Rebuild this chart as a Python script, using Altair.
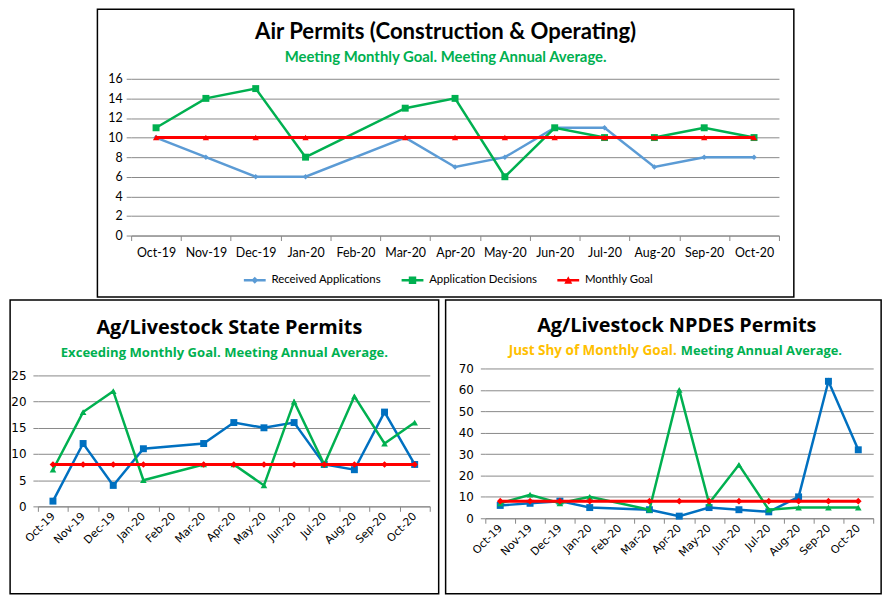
import altair as alt
import pandas as pd

# ---------------- data ----------------
months = ["Oct-19", "Nov-19", "Dec-19", "Jan-20", "Feb-20", "Mar-20", "Apr-20",
          "May-20", "Jun-20", "Jul-20", "Aug-20", "Sep-20", "Oct-20"]
series = ["Received Applications", "Application Decisions", "Monthly Goal"]

air_received = [10, 8, 6, 6, None, 10, 7, 8, 11, 11, 7, 8, 8]
air_decisions = [11, 14, 15, 8, None, 13, 14, 6, 11, 10, 10, 11, 10]
air_goal = [10, 10, 10, 10, None, 10, 10, 10, 10, 10, 10, 10, 10]

state_received = [1, 12, 4, 11, None, 12, 16, 15, 16, 8, 7, 18, 8]
state_decisions = [7, 18, 22, 5, None, 8, 8, 4, 20, 8, 21, 12, 16]
state_goal = [8, 8, 8, 8, None, 8, 8, 8, 8, 8, 8, 8, 8]

npdes_received = [6, 7, 8, 5, None, 4, 1, 5, 4, 3, 10, 64, 32]
npdes_decisions = [7, 11, 7, 10, None, 4, 60, 7, 25, 4, 5, 5, 5]
npdes_goal = [8, 8, 8, 8, None, 8, 8, 8, 8, 8, 8, 8, 8]

air_ticks = [0, 2, 4, 6, 8, 10, 12, 14, 16]
state_ticks = [0, 5, 10, 15, 20, 25]
npdes_ticks = [0, 10, 20, 30, 40, 50, 60, 70]

air_title = "Air Permits (Construction & Operating)"
air_subtitle = "Meeting Monthly Goal. Meeting Annual Average."
state_title = "Ag/Livestock State Permits"
state_subtitle = "Exceeding Monthly Goal. Meeting Annual Average."
npdes_title = "Ag/Livestock NPDES Permits"
npdes_subtitle = ["Just Shy of Monthly Goal.", "Meeting Annual Average."]

# ---------------- styles ----------------
GRID = "#888888"
GREEN = "#00B050"
RED = "#FF0000"
BLUE = "#0070C0"
LIGHT_BLUE = "#5B9BD5"
ORANGE = "#FFC000"


def long_table(received, decisions, goal):
    rows = []
    for name, vals in zip(series, [received, decisions, goal]):
        for m, v in zip(months, vals):
            if v is not None:
                rows.append({"month": m, "series": name, "value": v})
    return pd.DataFrame(rows)


def p_line(L, t):
    return f"M{-L},{-t}L{L},{-t}L{L},{t}L{-L},{t}Z"


def p_square(m):
    return f"M{-m},{-m}L{m},{-m}L{m},{m}L{-m},{m}Z"


def p_triangle(m):
    return f"M0,{-m}L{m},{m * 0.85}L{-m},{m * 0.85}Z"


def p_diamond(m):
    return f"M0,{-m}L{m},0L0,{m}L{-m},0Z"


MARK_PATH = {"square": p_square, "triangle-up": p_triangle, "diamond": p_diamond}


def text_layer(text, x, y, font, size, color, align="center"):
    return alt.Chart(pd.DataFrame({"t": [text]})).mark_text(
        align=align, baseline="middle", font=font, fontSize=size, fontWeight="bold",
        color=color).encode(text="t:N", x=alt.value(x), y=alt.value(y))


def build_panel(df, ticks, cfg):
    W, H = cfg["size"]
    x0, x1 = cfg["xr"]
    yb, yt = cfg["yr"]
    base = alt.Chart(df).encode(
        x=alt.X("month:N", sort=months, title=None,
                scale=alt.Scale(type="band", domain=months, range=[x0, x1],
                                paddingInner=0, paddingOuter=0),
                axis=alt.Axis(grid=False, tickBand="extent", domainColor=GRID, domainWidth=1,
                              tickColor=GRID, tickSize=5, tickWidth=1,
                              labelAngle=cfg["xangle"], labelAlign=cfg["xalign"],
                              labelBaseline=cfg["xbaseline"], labelPadding=cfg["xpad"],
                              labelFont=cfg["axfont"], labelFontSize=cfg["xfs"],
                              labelColor="black", labelOverlap=False, offset=yb - H)),
        y=alt.Y("value:Q", title=None,
                scale=alt.Scale(domain=[ticks[0], ticks[-1]], range=[yb, yt], nice=False, zero=False),
                axis=alt.Axis(values=ticks, grid=True, gridColor=GRID, gridWidth=1, domain=False,
                              tickColor=GRID, tickSize=5, tickWidth=1, labelPadding=cfg["ypad"],
                              labelFont=cfg["axfont"], labelFontSize=cfg["yfs"], labelColor="black",
                              offset=-x0)),
    )
    layers = []
    for st in cfg["styles"]:
        sub = base.transform_filter(alt.datum.series == st["name"])
        layers.append(sub.mark_line(color=st["color"], strokeWidth=st["width"]))
        layers.append(sub.mark_point(shape=st["shape"], filled=True, size=st["size"],
                                     color=st["color"], opacity=1, strokeWidth=0))

    lg = cfg["legend"]
    names = [st["name"] for st in cfg["styles"] if st["legend"]]
    colors = [st["color"] for st in cfg["styles"] if st["legend"]]
    paths = [p_line(lg["L"], lg["t"]) + MARK_PATH[st["shape"]](st["lm"])
             for st in cfg["styles"] if st["legend"]]
    legend = alt.Legend(title=None, orient="none", legendX=lg["x"], legendY=lg["y"],
                        direction="horizontal", labelFont=lg["font"], labelFontSize=lg["fs"],
                        labelColor="black", symbolSize=100, symbolStrokeWidth=0,
                        labelOffset=lg["labelOffset"], columnPadding=lg["colpad"],
                        labelLimit=0, padding=0, symbolOpacity=1)
    leg = alt.Chart(df).transform_filter("datum.value < 0").mark_point(
        filled=True, opacity=1, size=100).encode(
        color=alt.Color("series:N", scale=alt.Scale(domain=names, range=colors), legend=legend),
        shape=alt.Shape("series:N", scale=alt.Scale(domain=names, range=paths), legend=legend),
    )
    layers.append(leg)
    layers.extend(cfg.get("extra", []))
    return alt.layer(*layers).properties(width=W, height=H)


# ---------------- top panel ----------------
air_df = long_table(air_received, air_decisions, air_goal)
top = build_panel(air_df, air_ticks, {
    "size": (702, 290), "xr": (34, 687), "yr": (228, 70),
    "xangle": 0, "xalign": "center", "xbaseline": "top", "xpad": 6, "ypad": 4,
    "axfont": "Lato", "xfs": 12.5, "yfs": 12.5,
    "styles": [
        {"name": series[0], "color": LIGHT_BLUE, "width": 2.5, "shape": "diamond", "size": 30, "legend": True, "lm": 0.7},
        {"name": series[1], "color": GREEN, "width": 2.5, "shape": "square", "size": 49, "legend": True, "lm": 0.75},
        {"name": series[2], "color": RED, "width": 3, "shape": "triangle-up", "size": 40, "legend": True, "lm": 0.8},
    ],
    "legend": {"x": 241, "y": 267, "font": "Lato", "fs": 11.5, "L": 2.2, "t": 0.25,
               "labelOffset": 11, "colpad": 19},
    "extra": [
        text_layer(air_title, 351, 23, "Lato", 22.3, "black"),
        text_layer(air_subtitle, 351, 48, "Lato", 15, GREEN),
    ],
})

# ---------------- bottom-left panel ----------------
state_df = long_table(state_received, state_decisions, state_goal)
left = build_panel(state_df, state_ticks, {
    "size": (432, 296), "xr": (28, 423), "yr": (208, 76),
    "xangle": 315, "xalign": "right", "xbaseline": "middle", "xpad": 3, "ypad": 7,
    "axfont": "DejaVu Sans", "xfs": 11, "yfs": 12,
    "styles": [
        {"name": series[0], "color": BLUE, "width": 2.5, "shape": "square", "size": 49, "legend": True, "lm": 0.9},
        {"name": series[1], "color": GREEN, "width": 2.5, "shape": "triangle-up", "size": 45, "legend": True, "lm": 0.9},
        {"name": series[2], "color": RED, "width": 3, "shape": "diamond", "size": 45, "legend": True, "lm": 0.8},
    ],
    "legend": {"x": 43, "y": 265, "font": "DejaVu Sans", "fs": 10, "L": 2.9, "t": 0.25,
               "labelOffset": 10.5, "colpad": 10},
    "extra": [
        text_layer(state_title, 221, 28, "Open Sans", 20, "black"),
        text_layer(state_subtitle, 216, 53, "Open Sans", 13.2, GREEN),
    ],
})

# ---------------- bottom-right panel ----------------
npdes_df = long_table(npdes_received, npdes_decisions, npdes_goal)
right = build_panel(npdes_df, npdes_ticks, {
    "size": (439, 296), "xr": (40, 431), "yr": (220, 69),
    "xangle": 315, "xalign": "right", "xbaseline": "middle", "xpad": 3, "ypad": 7,
    "axfont": "DejaVu Sans", "xfs": 11, "yfs": 12,
    "styles": [
        {"name": series[0], "color": BLUE, "width": 2.5, "shape": "square", "size": 49, "legend": True, "lm": 0.9},
        {"name": series[1], "color": GREEN, "width": 2.5, "shape": "triangle-up", "size": 45, "legend": True, "lm": 0.9},
        {"name": series[2], "color": RED, "width": 3, "shape": "diamond", "size": 45, "legend": False, "lm": 0.8},
    ],
    "legend": {"x": 145, "y": 284, "font": "DejaVu Sans", "fs": 10, "L": 2.7, "t": 0.25,
               "labelOffset": 9.5, "colpad": 7},
    "extra": [
        text_layer(npdes_title, 233, 26, "Open Sans", 20, "black"),
        text_layer(npdes_subtitle[0], 233, 51, "Open Sans", 13.6, ORANGE, align="right"),
        text_layer(npdes_subtitle[1], 237, 51, "Open Sans", 13, GREEN, align="left"),
    ],
})

bottom = alt.hconcat(left, right, spacing=1)
chart = alt.vconcat(top, bottom, spacing=1, center=True).properties(
    padding={"left": -3, "top": -2, "right": 0, "bottom": 0}, background="white"
).configure_view(
    stroke="black", strokeWidth=1.5
).configure_legend(symbolStrokeWidth=0)

chart.save("out.html", embed_options={"renderer": "svg", "actions": False})
